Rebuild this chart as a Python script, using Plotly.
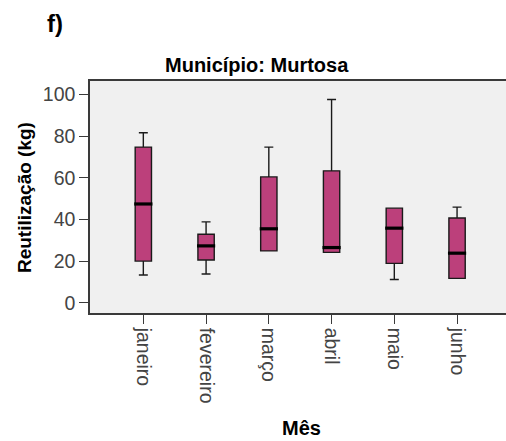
import plotly.graph_objects as go

months = ["janeiro", "fevereiro", "março", "abril", "maio", "junho"]
lower = [13.3, 13.8, 24.9, 24.2, 11.2, 11.7]
q1 = [20.0, 20.5, 24.9, 24.2, 18.9, 11.7]
median = [47.4, 27.3, 35.5, 26.5, 35.8, 23.8]
q3 = [74.7, 32.9, 60.4, 63.3, 45.4, 40.7]
upper = [81.6, 38.8, 74.7, 97.5, 45.4, 45.9]
yticks = [0, 20, 40, 60, 80, 100]

box_color = "#BC407B"
font = "Liberation Sans, Arial, sans-serif"

fig = go.Figure()
fig.add_trace(go.Box(
    x=months, q1=q1, median=median, q3=q3,
    lowerfence=lower, upperfence=upper,
    boxpoints=False, width=0.26, whiskerwidth=0.55,
    fillcolor=box_color, line=dict(color="#1a1a1a", width=1.4),
    showlegend=False, hoverinfo="skip",
))
fig.add_trace(go.Scatter(
    x=months, y=median, mode="markers",
    marker=dict(symbol="line-ew", size=13,
                line=dict(color="#000000", width=3.2)),
    showlegend=False, hoverinfo="skip",
))

fig.update_layout(
    width=506, height=441,
    margin=dict(l=90, r=0, t=81, b=128),
    paper_bgcolor="white", plot_bgcolor="#F0F0F0",
    font=dict(family=font, color="#444"),
    xaxis=dict(
        type="category", range=[-0.85, 5.78],
        showline=True, linecolor="#3a3a3a", linewidth=1.5, mirror=True,
        ticks="outside", ticklen=9, tickcolor="#3a3a3a", tickwidth=1.3,
        tickangle=90, tickfont=dict(size=19.5, color="#444"),
        showgrid=False, zeroline=False,
    ),
    yaxis=dict(
        range=[-4.9, 106.4], tickvals=yticks,
        showline=True, linecolor="#3a3a3a", linewidth=1.5,
        ticks="outside", ticklen=9, tickcolor="#3a3a3a", tickwidth=1.3,
        tickfont=dict(size=19.5, color="#444"),
        showgrid=False, zeroline=False,
    ),
    annotations=[
        dict(text="<b>f)</b>", x=-0.084, y=1.246, xref="paper", yref="paper",
             showarrow=False, font=dict(size=24, color="black", family=font),
             xanchor="center", yanchor="middle"),
        dict(text="<b>Município: Murtosa</b>", x=0.401, y=1.069,
             xref="paper", yref="paper", showarrow=False,
             font=dict(size=20, color="black", family=font),
             xanchor="center", yanchor="middle"),
        dict(text="<b>Reutilização (kg)</b>", x=-0.156, y=0.496,
             xref="paper", yref="paper", showarrow=False, textangle=-90,
             font=dict(size=19, color="black", family=font),
             xanchor="center", yanchor="middle"),
        dict(text="<b>Mês</b>", x=0.508, y=-0.496,
             xref="paper", yref="paper", showarrow=False,
             font=dict(size=20, color="black", family=font),
             xanchor="center", yanchor="middle"),
    ],
)

fig.write_html("out.html")
